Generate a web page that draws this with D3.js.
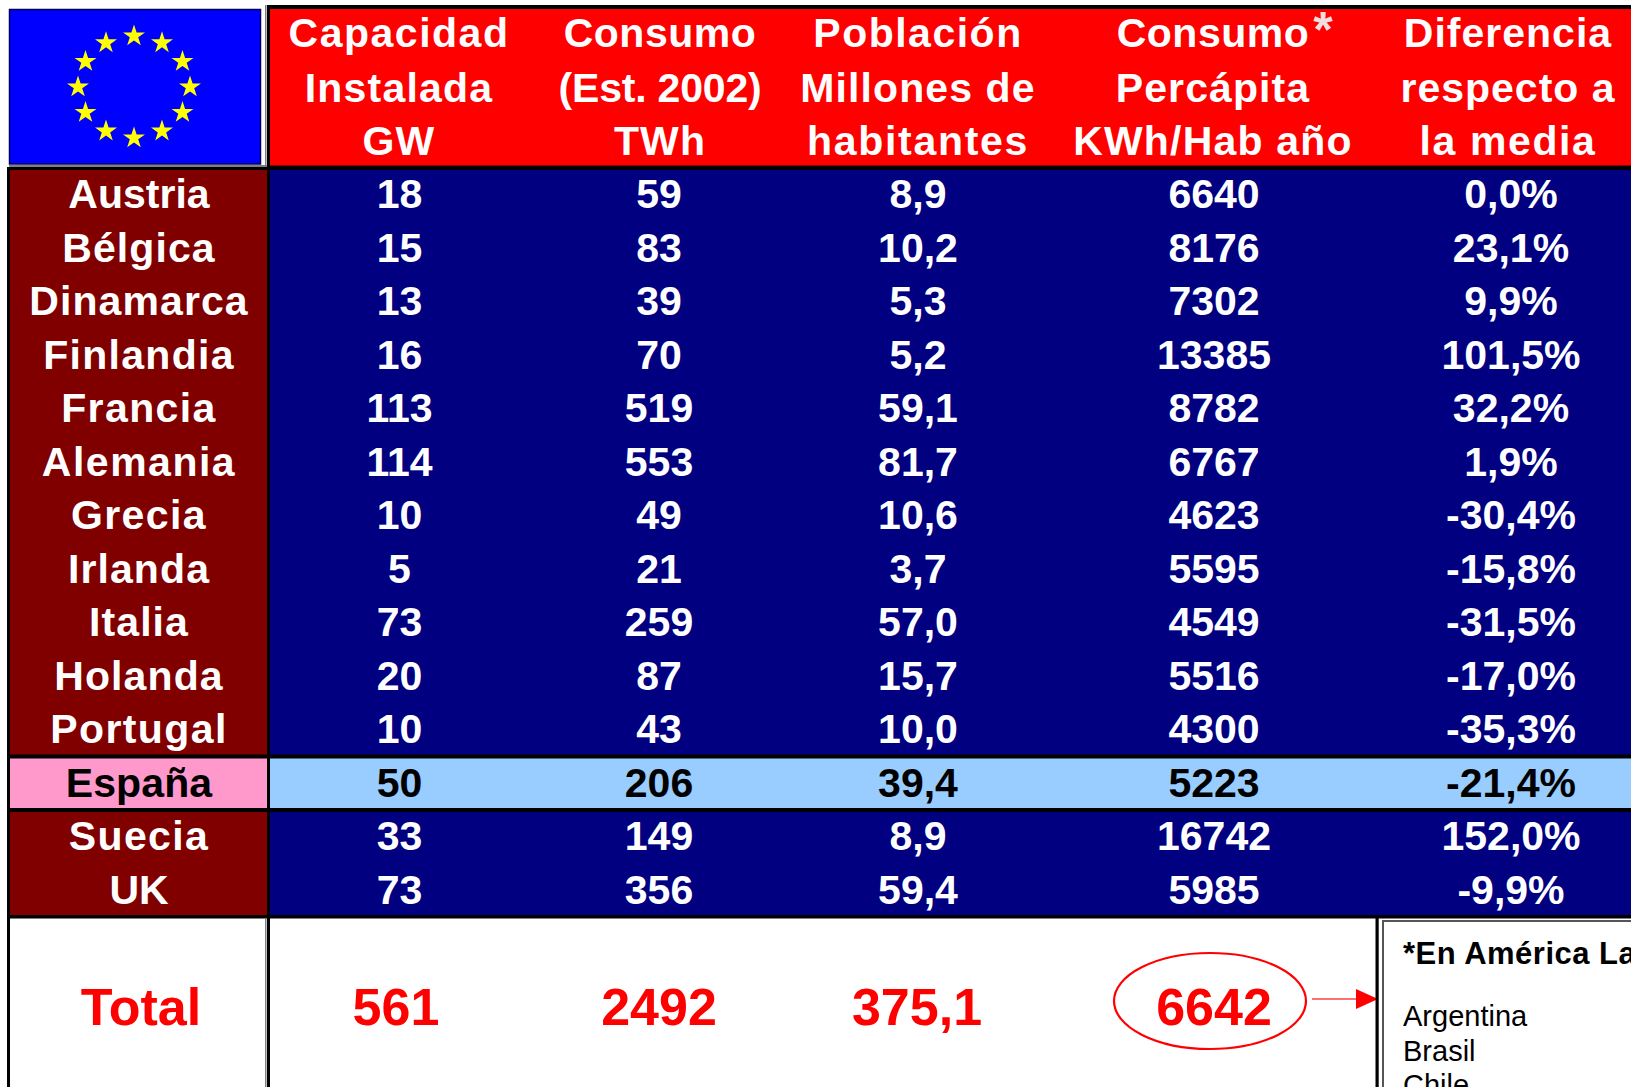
<!DOCTYPE html>
<html>
<head>
<meta charset="utf-8">
<script src="https://cdn.jsdelivr.net/npm/d3@7"></script>
<style>
  html, body { margin: 0; padding: 0; background: #fff; overflow: hidden; }
  svg { display: block; }
  text { font-family: "Liberation Sans", Arial, sans-serif; font-weight: 700; text-anchor: middle; }
</style>
</head>
<body>
<div id="chart"></div>
<script>
// ==========================
// DATA
// ==========================
const countries = ["Austria", "Bélgica", "Dinamarca", "Finlandia", "Francia", "Alemania", "Grecia",
  "Irlanda", "Italia", "Holanda", "Portugal", "España", "Suecia", "UK"];
const capacidad = ["18", "15", "13", "16", "113", "114", "10", "5", "73", "20", "10", "50", "33", "73"];
const consumo = ["59", "83", "39", "70", "519", "553", "49", "21", "259", "87", "43", "206", "149", "356"];
const poblacion = ["8,9", "10,2", "5,3", "5,2", "59,1", "81,7", "10,6", "3,7", "57,0", "15,7", "10,0", "39,4", "8,9", "59,4"];
const percapita = ["6640", "8176", "7302", "13385", "8782", "6767", "4623", "5595", "4549", "5516", "4300", "5223", "16742", "5985"];
const diferencia = ["0,0%", "23,1%", "9,9%", "101,5%", "32,2%", "1,9%", "-30,4%", "-15,8%", "-31,5%", "-17,0%", "-35,3%", "-21,4%", "152,0%", "-9,9%"];

const columns = ["capacidad", "consumo", "poblacion", "percapita", "diferencia"];
const columnValues = [capacidad, consumo, poblacion, percapita, diferencia];
const headers = [
  ["Capacidad", "Instalada", "GW"],
  ["Consumo", "(Est. 2002)", "TWh"],
  ["Población", "Millones de", "habitantes"],
  ["Consumo", "Percápita", "KWh/Hab año"],
  ["Diferencia", "respecto a", "la media"]
];
const totalLabel = "Total";
const totals = ["561", "2492", "375,1", "6642", null];
const highlighted = "España";
const noteTitle = "*En América Latina";
const noteLines = ["Argentina", "Brasil", "Chile"];

// ==========================
// SETUP
// ==========================
const width = 1631;
const height = 1087;

const svg = d3.select("#chart").append("svg")
  .attr("width", width)
  .attr("height", height)
  .attr("viewBox", `0 0 ${width} ${height}`);

const y = d3.scaleBand().domain(countries).range([168, 917]);
const x = d3.scaleOrdinal().domain(columns).range([399.5, 659, 918, 1214, 1511]);
const xHeader = d3.scaleOrdinal().domain(columns).range([399, 660, 918, 1213, 1508]);
const xTotal = d3.scaleOrdinal().domain(columns).range([396, 659, 917, 1214, 1510]);
const labelX = 139;
const leftColEnd = 267;
const baselineShift = 13.7;

// letter spacing the original slide happens to have, line by line
const headerSpacing = [[1.5, 1.2, 1.1], [0.5, -0.2, 1.1], [1.5, 1.1, 1.7], [0.5, 1.1, 1.2], [1, 1, 1.6]];
const labelSpacing = d3.scaleOrdinal().domain(countries)
  .range([0, 1.1, 1.1, 1.3, 1.4, 1.5, 1.4, 1.1, 1.1, 1.1, 1.4, 0.1, 1.4, 0]);

function blackRect(x0, y0, x1, y1, fill) {
  svg.append("rect").attr("x", x0).attr("y", y0)
    .attr("width", x1 - x0).attr("height", y1 - y0).attr("fill", fill || "#000");
}

// ==========================
// FLAG
// ==========================
svg.append("rect")
  .attr("x", 9.5).attr("y", 9.5)
  .attr("width", 251).attr("height", 154.5)
  .attr("fill", "#0000ff")
  .attr("stroke", "#00005a")
  .attr("stroke-width", 1.5);

const star = d3.symbol().type(d3.symbolStar).size(150);
svg.selectAll(".star")
  .data(d3.range(12))
  .enter()
  .append("path")
  .attr("class", "star")
  .attr("d", star)
  .attr("fill", "#ffff00")
  .attr("transform", d => {
    const a = d / 12 * 2 * Math.PI;
    return `translate(${134 + 56 * Math.sin(a)},${87 - 51 * Math.cos(a)})`;
  });

// ==========================
// HEADER
// ==========================
svg.append("rect")
  .attr("x", 270).attr("y", 9)
  .attr("width", width - 270).attr("height", 157)
  .attr("fill", "#ff0000");

const headerBaselines = [47, 102, 155];
headers.forEach((lines, i) => {
  lines.forEach((line, j) => {
    svg.append("text")
      .attr("x", xHeader(columns[i]))
      .attr("y", headerBaselines[j])
      .attr("font-size", 41)
      .attr("letter-spacing", headerSpacing[i][j])
      .attr("fill", "#fff")
      .text(line);
  });
});

svg.append("text")
  .attr("x", 1323)
  .attr("y", 47)
  .attr("font-size", 50)
  .attr("fill", "#f2dede")
  .text("*");

// ==========================
// BODY
// ==========================
countries.forEach(c => {
  const isHi = c === highlighted;
  svg.append("rect")
    .attr("x", 9).attr("y", y(c))
    .attr("width", leftColEnd - 9).attr("height", y.bandwidth() + 0.5)
    .attr("fill", isHi ? "#ff99cc" : "#800000");
  svg.append("rect")
    .attr("x", leftColEnd).attr("y", y(c))
    .attr("width", width - leftColEnd).attr("height", y.bandwidth() + 0.5)
    .attr("fill", isHi ? "#99ccff" : "#000080");
});

countries.forEach(c => {
  const color = c === highlighted ? "#000" : "#fff";
  const baseline = y(c) + y.bandwidth() / 2 + baselineShift;
  svg.append("text")
    .attr("x", labelX)
    .attr("y", baseline)
    .attr("font-size", 41)
    .attr("letter-spacing", labelSpacing(c))
    .attr("fill", color)
    .text(c);
  columns.forEach((col, i) => {
    svg.append("text")
      .attr("x", x(col))
      .attr("y", baseline)
      .attr("font-size", 41)
      .attr("fill", color)
      .text(columnValues[i][countries.indexOf(c)]);
  });
});

// ==========================
// RULES
// ==========================
const bodyBottom = y.range()[1];
const hiTop = y(highlighted);
const hiBottom = hiTop + y.bandwidth();

blackRect(267, 5, width, 9);                       // top of header
blackRect(9, 165, 267, 167, "#808080");            // under flag
blackRect(7, 167, 270, 170);
blackRect(270, 165, width, 166, "#8a0000");        // under header
blackRect(270, 166, width, 170);
blackRect(7, hiTop - 2, width, hiTop + 2);         // above España
blackRect(7, hiBottom - 2, width, hiBottom + 2);   // below España
blackRect(7, bodyBottom - 2, width, bodyBottom + 1.5);
blackRect(7, 167, 10, height);                     // left border
blackRect(267, 5, 270, height);                    // label column edge
blackRect(265, 5, 266.5, 167, "#808080");
blackRect(265, bodyBottom + 1.5, 266.5, height, "#808080");

// ==========================
// TOTAL ROW
// ==========================
const totalBaseline = 1024.5;
svg.append("text")
  .attr("x", 141).attr("y", totalBaseline)
  .attr("font-size", 52).attr("fill", "#ff0000")
  .text(totalLabel);

columns.forEach((col, i) => {
  if (totals[i] === null) return;
  svg.append("text")
    .attr("x", xTotal(col)).attr("y", totalBaseline)
    .attr("font-size", 52).attr("fill", "#ff0000")
    .text(totals[i]);
});

// ring round the per capita total
svg.append("ellipse")
  .attr("cx", 1210).attr("cy", 1001)
  .attr("rx", 96).attr("ry", 48)
  .attr("fill", "none")
  .attr("stroke", "#ff0000")
  .attr("stroke-width", 2.2);

svg.append("line")
  .attr("x1", 1312).attr("y1", 999)
  .attr("x2", 1358).attr("y2", 999)
  .attr("stroke", "#ff4040")
  .attr("stroke-width", 1.6);

const arrow = d3.path();
arrow.moveTo(1356, 989);
arrow.lineTo(1378, 999);
arrow.lineTo(1356, 1009);
arrow.closePath();
svg.append("path")
  .attr("d", arrow.toString())
  .attr("fill", "#ff0000");

// ==========================
// NOTE BOX
// ==========================
blackRect(1375.5, bodyBottom, 1378.7, height);

svg.append("rect")
  .attr("x", 1383).attr("y", 921)
  .attr("width", width).attr("height", height)
  .attr("fill", "#fff")
  .attr("stroke", "#555")
  .attr("stroke-width", 2);

svg.append("text")
  .attr("x", 1403).attr("y", 964)
  .attr("font-size", 31)
  .attr("letter-spacing", 0.5)
  .attr("fill", "#000")
  .style("text-anchor", "start")
  .text(noteTitle);

noteLines.forEach((line, i) => {
  svg.append("text")
    .attr("x", 1403)
    .attr("y", 1026 + i * 34.5)
    .attr("font-size", 29)
    .attr("fill", "#000")
    .style("text-anchor", "start")
    .style("font-weight", 400)
    .text(line);
});
</script>
</body>
</html>
